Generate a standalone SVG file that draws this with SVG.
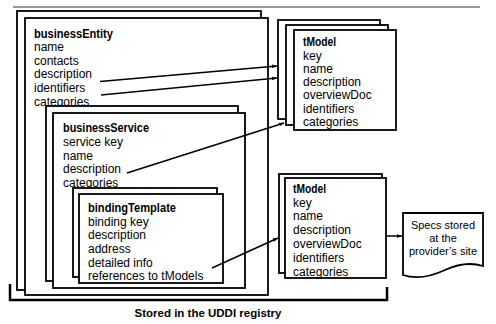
<svg xmlns="http://www.w3.org/2000/svg" width="496" height="324" viewBox="0 0 496 324">
<defs>
<style>
.bx{fill:#fff;stroke:#000;stroke-width:1.8}
.t{font-family:"Liberation Sans",Arial,sans-serif;font-size:12px;fill:#000}
.b{font-weight:bold}
.s{font-size:11px}
.c{fill:none;stroke:#000;stroke-width:1.5}
</style>
<marker id="ah" viewBox="0 0 8 6" refX="8" refY="3" markerWidth="5" markerHeight="4" orient="auto" markerUnits="userSpaceOnUse">
<path d="M0,0 L8,3 L0,6 Z" fill="#000"/>
</marker>
</defs>
<rect width="496" height="324" fill="#fff"/>
<line x1="13" y1="7" x2="480" y2="7" stroke="#777" stroke-width="1.5"/>

<g id="businessEntity">
<rect class="bx" x="17" y="11" width="244" height="279"/>
<rect class="bx" x="25" y="18" width="243" height="277"/>
<text class="t b" x="34" y="37.5" textLength="79" lengthAdjust="spacingAndGlyphs">businessEntity</text>
<text class="t" x="34" y="51">name</text>
<text class="t" x="34" y="64.5">contacts</text>
<text class="t" x="34" y="78">description</text>
<text class="t" x="34" y="92">identifiers</text>
<text class="t" x="34" y="105.5">categories</text>
</g>

<g id="businessService">
<rect class="bx" x="46" y="106" width="192" height="175"/>
<rect class="bx" x="53" y="113" width="192" height="175"/>
<text class="t b" x="63" y="131.5" textLength="86" lengthAdjust="spacingAndGlyphs">businessService</text>
<text class="t" x="63" y="145.5">service key</text>
<text class="t" x="63" y="159.5">name</text>
<text class="t" x="63" y="173">description</text>
<text class="t" x="63" y="187">categories</text>
</g>

<g id="bindingTemplate">
<rect class="bx" x="73" y="188" width="144" height="89"/>
<rect class="bx" x="79" y="194" width="144" height="89"/>
<text class="t b" x="88" y="212" textLength="88" lengthAdjust="spacingAndGlyphs">bindingTemplate</text>
<text class="t" x="88" y="225.5">binding key</text>
<text class="t" x="88" y="239">description</text>
<text class="t" x="88" y="253">address</text>
<text class="t" x="88" y="266.5">detailed info</text>
<text class="t" x="88" y="280">references to tModels</text>
</g>

<g id="tModel1">
<rect class="bx" x="278" y="20" width="102" height="99"/>
<rect class="bx" x="286" y="25" width="102" height="100"/>
<rect class="bx" x="294" y="30" width="102" height="100"/>
<text class="t b" x="303" y="46" textLength="33" lengthAdjust="spacingAndGlyphs">tModel</text>
<text class="t" x="303" y="59.5">key</text>
<text class="t" x="303" y="72.5">name</text>
<text class="t" x="303" y="86">description</text>
<text class="t" x="303" y="99">overviewDoc</text>
<text class="t" x="303" y="112.5">identifiers</text>
<text class="t" x="303" y="126">categories</text>
</g>

<g id="tModel2">
<rect class="bx" x="279" y="174" width="103" height="99"/>
<rect class="bx" x="285" y="178" width="101" height="100"/>
<text class="t b" x="293" y="193" textLength="33" lengthAdjust="spacingAndGlyphs">tModel</text>
<text class="t" x="293" y="206.5">key</text>
<text class="t" x="293" y="220">name</text>
<text class="t" x="293" y="234">description</text>
<text class="t" x="293" y="248">overviewDoc</text>
<text class="t" x="293" y="262">identifiers</text>
<text class="t" x="293" y="275.5">categories</text>
</g>

<g id="specs">
<path class="bx" d="M403,213 H483 V266 C470,262 458,264 445,270 C430,277 415,279 403,275 Z"/>
<text class="t s" x="443" y="229" text-anchor="middle">Specs stored</text>
<text class="t s" x="443" y="242" text-anchor="middle">at the</text>
<text class="t s" x="443" y="255" text-anchor="middle">provider’s site</text>
</g>

<g id="connectors">
<line class="c" x1="100" y1="81.5" x2="277" y2="66" marker-end="url(#ah)"/>
<line class="c" x1="101" y1="95" x2="277" y2="78" marker-end="url(#ah)"/>
<line class="c" x1="127" y1="173" x2="284" y2="123" marker-end="url(#ah)"/>
<line class="c" x1="212" y1="268" x2="278" y2="238" marker-end="url(#ah)"/>
<line class="c" x1="386" y1="236" x2="402" y2="236" marker-end="url(#ah)"/>
</g>

<g id="registry">
<path d="M10,284 V300 H387 V287" fill="none" stroke="#000" stroke-width="2.5"/>
<text class="t b" x="208" y="317" text-anchor="middle" style="font-size:11.5px">Stored in the UDDI registry</text>
</g>
</svg>
